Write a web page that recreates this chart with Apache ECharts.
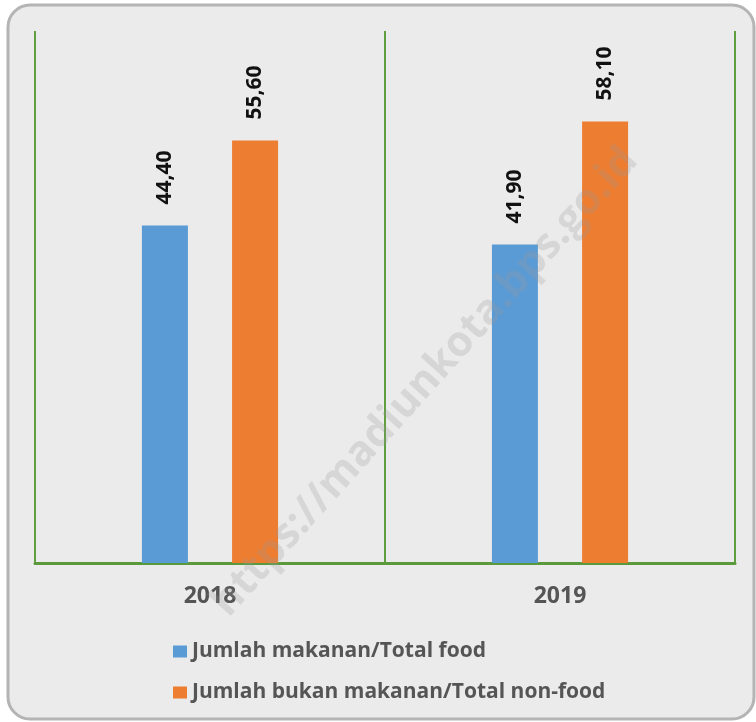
<!DOCTYPE html>
<html>
<head>
<meta charset="utf-8">
<script src="https://cdn.jsdelivr.net/npm/echarts@6/dist/echarts.min.js"></script>
<style>
  html, body { margin: 0; padding: 0; background: #fff; }
  #chart { width: 756px; height: 722px; }
</style>
</head>
<body>
<div id="chart"></div>
<script>
const years = ['2018', '2019'];
const seriesNames = ['Jumlah makanan/Total food', 'Jumlah bukan makanan/Total non-food'];
const foodValues = [44.4, 41.9];
const nonFoodValues = [55.6, 58.1];
const colors = ['#5b9bd5', '#ed7d31'];

const chart = echarts.init(document.getElementById('chart'));

const labelOpt = {
    show: true,
    position: 'top',
    rotate: 90,
    align: 'left',
    verticalAlign: 'middle',
    distance: 21,
    color: '#111',
    fontSize: 21,
    fontWeight: 'bold',
    fontFamily: 'Open Sans',
    formatter: p => p.value.toFixed(2).replace('.', ',')
};

const option = {
    backgroundColor: '#fff',
    animation: false,
    graphic: [
        {
            type: 'rect',
            z: -1,
            shape: { x: 8, y: 5, width: 746, height: 714, r: 22 },
            style: { fill: '#ebebeb', stroke: '#b4b4b4', lineWidth: 3 }
        },
        {
            type: 'text',
            z: 100,
            x: 425,
            y: 382,
            rotation: Math.PI * 48 / 180,
            style: {
                text: 'https://madiunkota.bps.go.id',
                fill: 'rgba(150,150,150,0.25)',
                font: 'bold 42px "Open Sans"',
                align: 'center',
                verticalAlign: 'middle'
            }
        }
    ],
    grid: { left: 35, right: 21, top: 31, bottom: 159 },
    legend: {
        orient: 'vertical',
        left: 168,
        top: 636,
        itemGap: 20,
        itemWidth: 14,
        itemHeight: 12,
        icon: 'rect',
        textStyle: { fontSize: 21, fontWeight: 'bold', color: '#555', fontFamily: 'Open Sans' },
        data: seriesNames
    },
    xAxis: {
        type: 'category',
        data: years,
        axisLine: { lineStyle: { color: '#5a9a3c', width: 3 } },
        axisTick: { show: false },
        splitLine: { show: true, lineStyle: { color: '#5f9f40', width: 2 } },
        axisLabel: { margin: 22, fontSize: 23, fontWeight: 'bold', color: '#555', fontFamily: 'Open Sans' }
    },
    yAxis: {
        type: 'value',
        min: 0,
        max: 70,
        show: false,
        splitLine: { show: false }
    },
    series: [
        {
            name: seriesNames[0],
            type: 'bar',
            data: foodValues,
            barWidth: 46,
            barGap: '96%',
            itemStyle: { color: colors[0] },
            label: labelOpt
        },
        {
            name: seriesNames[1],
            type: 'bar',
            data: nonFoodValues,
            barWidth: 46,
            barGap: '96%',
            itemStyle: { color: colors[1] },
            label: labelOpt
        }
    ]
};

chart.setOption(option);
</script>
</body>
</html>
